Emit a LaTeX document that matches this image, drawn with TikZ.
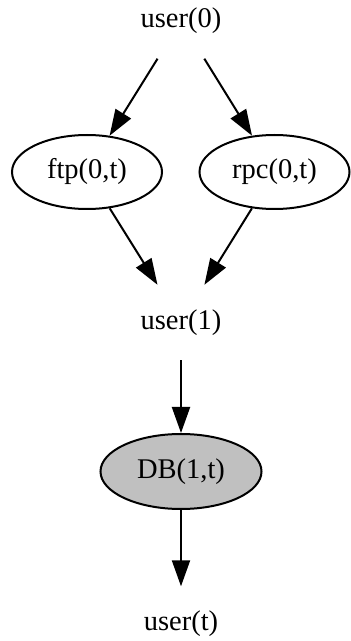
\documentclass[tikz,border=0pt]{standalone}
\usepackage{fontspec}
\setmainfont{Liberation Serif}
\usetikzlibrary{arrows.meta,shapes.geometric}
\begin{document}
\begin{tikzpicture}[x=1pt,y=1pt,
  every node/.style={font=\fontsize{28.5}{34}\selectfont, inner sep=0pt},
  plainnode/.style={rectangle, minimum width=100pt, minimum height=75pt},
  ellnode/.style={ellipse, draw, line width=2pt, minimum width=150pt, minimum height=74pt},
  edge/.style={line width=2pt, -{Triangle[length=26pt,width=18pt]}}
]
\useasboundingbox (0,0) rectangle (351,641);
\node[plainnode] (u0) at (181,620) {user(0)};
\node[ellnode] (ftp) at (87,469) {ftp(0,t)};
\node[ellnode] (rpc) at (274.5,469) {rpc(0,t)};
\node[plainnode] (u1) at (181,318.5) {user(1)};
\node[ellnode, fill={rgb,255:red,192;green,192;blue,192}, minimum width=161pt, minimum height=75pt] (db) at (181,169.5) {DB(1,t)};
\node[plainnode] (ut) at (181,17) {user(t)};
\draw[edge] (u0) -- (ftp);
\draw[edge] (u0) -- (rpc);
\draw[edge] (ftp) -- (u1);
\draw[edge] (rpc) -- (u1);
\draw[edge] (u1) -- (db);
\draw[edge] (db) -- (ut);
\end{tikzpicture}
\end{document}
